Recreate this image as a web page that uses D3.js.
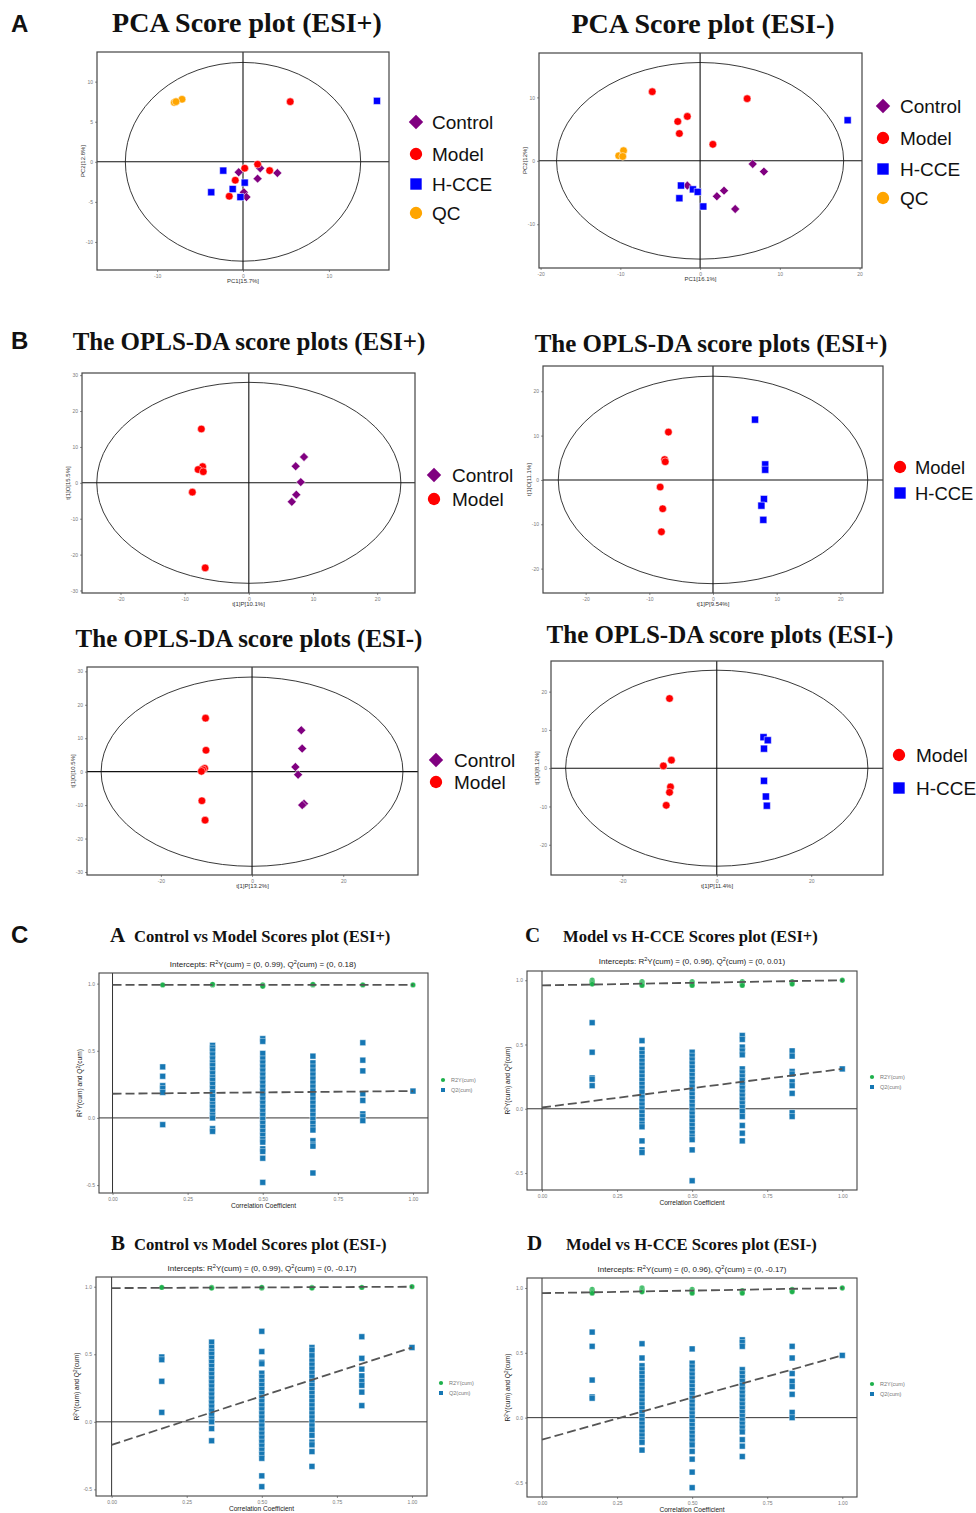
<!DOCTYPE html>
<html>
<head>
<meta charset="utf-8">
<script src="https://cdn.jsdelivr.net/npm/d3@7"></script>
<style>
body { margin: 0; background: #fff; }
svg { display: block; }
</style>
</head>
<body>
<svg id="fig" width="976" height="1513"></svg>
<script>
// ---------- data: PCA scores ----------
var pcaPosControl = [[-0.5,-1.3],[2.0,-0.8],[4.0,-1.4],[1.7,-2.1],[0.1,-3.8],[0.4,-4.4]];
var pcaPosModel   = [[5.5,7.5],[1.7,-0.3],[0.2,-0.8],[3.1,-1.1],[-0.9,-2.3],[-1.6,-4.3]];
var pcaPosHCCE    = [[15.6,7.6],[-2.3,-1.1],[0.2,-2.6],[-1.2,-3.4],[-3.7,-3.8],[-0.3,-4.4]];
var pcaPosQC      = [[-8.0,7.4],[-7.1,7.8],[-7.8,7.5]];

var pcaNegControl = [[6.6,-0.5],[8.0,-1.7],[-1.6,-3.9],[3.0,-4.7],[2.1,-5.6],[4.4,-7.6]];
var pcaNegModel   = [[-6.0,10.9],[5.9,9.8],[-1.6,7.0],[-2.8,6.2],[-2.6,4.3],[1.6,2.6]];
var pcaNegHCCE    = [[18.5,6.4],[-2.4,-3.9],[-0.9,-4.5],[-0.3,-4.9],[-2.6,-5.9],[0.4,-7.2]];
var pcaNegQC      = [[-10.2,0.8],[-9.6,1.6],[-9.7,0.7]];

// ---------- data: OPLS-DA scores ----------
var oplsPosCMControl = [[8.6,7.2],[7.3,4.6],[8.1,0.2],[7.4,-3.3],[6.7,-5.3]];
var oplsPosCMModel   = [[-7.4,15.0],[-7.2,4.5],[-7.9,3.7],[-7.1,3.1],[-8.8,-2.6],[-6.8,-23.7]];
var oplsPosMHModel   = [[-7.0,10.8],[-7.6,4.6],[-7.5,4.1],[-8.3,-1.6],[-7.9,-6.5],[-8.1,-11.7]];
var oplsPosMHHCCE    = [[6.6,13.6],[8.2,3.5],[8.2,2.3],[8.0,-4.3],[7.6,-5.8],[7.9,-9.0]];
var oplsNegCMControl = [[10.8,12.4],[11.0,6.9],[9.5,1.4],[10.1,-0.9],[11.4,-9.6],[11.0,-10.0]];
var oplsNegCMModel   = [[-10.2,16.0],[-10.1,6.4],[-10.4,1.0],[-10.8,0.6],[-11.1,0.1],[-11.0,-8.7],[-10.3,-14.5]];
var oplsNegMHModel   = [[-10.0,18.2],[-9.6,2.1],[-11.3,0.6],[-9.8,-4.9],[-10.0,-6.3],[-10.7,-9.7]];
var oplsNegMHHCCE    = [[9.9,8.1],[10.8,7.3],[10.0,5.1],[10.0,-3.3],[10.4,-7.4],[10.6,-9.8]];

// ---------- data: permutation tests ----------
var permSteps = [0.167, 0.333, 0.5, 0.667, 0.833, 1.0];

var permAR2 = [[0.99],[0.99,0.995],[0.99,0.98],[0.99,0.995],[0.99],[0.99]];
var permAQ2 = [
  [0.38,0.31,0.24,0.22,0.19,-0.05],
  [0.54,0.52,0.50,0.47,0.44,0.41,0.39,0.36,0.33,0.30,0.28,0.25,0.22,0.19,0.16,0.13,0.10,0.08,0.05,0.02,0.00,-0.08,-0.10],
  [0.59,0.57,0.48,0.44,0.41,0.38,0.35,0.32,0.29,0.26,0.23,0.20,0.17,0.14,0.11,0.08,0.05,0.02,-0.01,-0.04,-0.07,-0.10,-0.13,-0.16,-0.18,-0.23,-0.25,-0.30,-0.48],
  [0.46,0.41,0.38,0.35,0.32,0.29,0.26,0.23,0.20,0.17,0.14,0.11,0.08,0.05,0.02,-0.01,-0.04,-0.07,-0.09,-0.17,-0.20,-0.21,-0.41],
  [0.56,0.43,0.35,0.18,0.13,0.03,0.01,-0.02],
  [0.20]
];
var permAIntercepts = [0.99, 0.18];

var permBR2 = [[0.995],[0.995,0.99],[0.99,0.995],[0.995,0.99],[0.995],[1.0]];
var permBQ2 = [
  [0.48,0.46,0.30,0.07],
  [0.59,0.55,0.52,0.50,0.47,0.44,0.41,0.38,0.35,0.32,0.29,0.26,0.23,0.20,0.17,0.14,0.11,0.08,0.05,0.02,0.00,-0.05,-0.14],
  [0.67,0.52,0.44,0.43,0.36,0.33,0.30,0.27,0.24,0.21,0.18,0.15,0.12,0.09,0.06,0.03,0.00,-0.03,-0.06,-0.09,-0.12,-0.15,-0.18,-0.21,-0.24,-0.27,-0.40,-0.48],
  [0.55,0.53,0.49,0.45,0.42,0.39,0.36,0.33,0.30,0.27,0.24,0.21,0.18,0.15,0.12,0.09,0.06,0.03,0.00,-0.03,-0.06,-0.10,-0.15,-0.17,-0.22,-0.33],
  [0.63,0.47,0.39,0.34,0.30,0.27,0.22,0.12],
  [0.55]
];
var permBIntercepts = [0.99, -0.17];

var permCR2 = [[1.0,0.99,0.98,0.97],[0.99,0.98,0.97,0.96],[0.99,0.98,0.97,0.96],[0.99,0.98,0.97,0.96],[0.99,0.98,0.97],[1.0]];
var permCQ2 = [
  [0.67,0.44,0.24,0.23,0.18],
  [0.53,0.46,0.43,0.40,0.37,0.34,0.31,0.28,0.25,0.22,0.19,0.16,0.13,0.09,0.06,0.03,0.00,-0.03,-0.06,-0.09,-0.12,-0.14,-0.25,-0.32,-0.34],
  [0.44,0.41,0.38,0.35,0.32,0.29,0.26,0.23,0.20,0.17,0.14,0.11,0.08,0.05,0.02,-0.01,-0.04,-0.07,-0.10,-0.13,-0.16,-0.19,-0.22,-0.24,-0.32,-0.56],
  [0.57,0.54,0.48,0.45,0.42,0.31,0.28,0.25,0.22,0.19,0.16,0.13,0.10,0.07,0.04,0.01,-0.02,-0.06,-0.13,-0.19,-0.25],
  [0.45,0.41,0.29,0.27,0.21,0.18,0.12,-0.03,-0.06],
  [0.31]
];
var permCIntercepts = [0.96, 0.01];

var permDR2 = [[0.99,0.98,0.97,0.96],[1.0,0.99,0.98,0.97],[0.99,0.98,0.97,0.96],[0.98,0.97,0.96],[0.99,0.98,0.97],[1.0]];
var permDQ2 = [
  [0.66,0.55,0.29,0.16,0.15],
  [0.57,0.46,0.40,0.37,0.34,0.31,0.28,0.25,0.22,0.19,0.16,0.13,0.10,0.07,0.04,0.01,-0.02,-0.05,-0.08,-0.11,-0.14,-0.17,-0.19,-0.25],
  [0.53,0.42,0.39,0.36,0.33,0.30,0.27,0.24,0.21,0.18,0.15,0.12,0.09,0.06,0.03,0.00,-0.03,-0.06,-0.09,-0.12,-0.15,-0.18,-0.21,-0.26,-0.32,-0.42,-0.54],
  [0.60,0.58,0.55,0.37,0.34,0.31,0.28,0.25,0.22,0.19,0.16,0.13,0.10,0.07,0.04,0.01,-0.02,-0.05,-0.08,-0.11,-0.17,-0.22,-0.30],
  [0.55,0.46,0.34,0.28,0.24,0.18,0.04,0.00],
  [0.48]
];
var permDIntercepts = [0.96, -0.17];

var permXTicks = [0, 0.25, 0.5, 0.75, 1];
var permYTicks = [-0.5, 0, 0.5, 1];

// ---------- styles ----------
var serif = "'Liberation Serif','Times New Roman',serif";
var sans = "'Liberation Sans',Arial,sans-serif";

// square diamond (rotated square), like ggplot shape 18
var symbolRhomb = {
    draw: function(ctx, size) {
        var r = Math.sqrt(size / 2);
        ctx.moveTo(0, -r);
        ctx.lineTo(r, 0);
        ctx.lineTo(0, r);
        ctx.lineTo(-r, 0);
        ctx.closePath();
    }
};

var groupStyle = {
    'Control': { shape: symbolRhomb,     color: '#800080', size: 40 },
    'Model':   { shape: d3.symbolCircle, color: '#ff0000', size: 46 },
    'H-CCE':   { shape: d3.symbolSquare, color: '#0000ff', size: 50 },
    'QC':      { shape: d3.symbolCircle, color: '#ffa500', size: 46 }
};

var svg = d3.select('#fig');

var fmtInt = function(d) { return String(d); };

function styleAxis(sel, fs) {
    sel.select('.domain').remove();
    sel.selectAll('.tick line').attr('stroke', '#444').attr('stroke-width', 0.6);
    sel.selectAll('.tick text')
        .attr('fill', '#7a7a7a')
        .style('font-size', fs + 'px')
        .style('font-family', sans);
}

// text with superscript pieces: parts = [[text, isSup], ...]
function supText(t, parts, fs) {
    var up = false;
    parts.forEach(function(p) {
        var s = t.append('tspan').text(p[0]);
        if (p[1]) {
            s.style('font-size', (fs * 0.7) + 'px');
            if (!up) { s.attr('dy', -fs * 0.38); up = true; }
        } else if (up) {
            s.attr('dy', fs * 0.38);
            up = false;
        }
    });
}

function panelLetter(letter, x, y) {
    svg.append('text').attr('x', x).attr('y', y)
        .text(letter)
        .style('font-family', sans).style('font-weight', 'bold')
        .style('font-size', '24px').attr('fill', '#111');
}

// ---------- score plot (PCA / OPLS-DA) ----------
function scorePlot(o) {
    var f = o.frame;
    var x = d3.scaleLinear().domain(o.xDomain).range([f[0], f[0] + f[2]]);
    var y = d3.scaleLinear().domain(o.yDomain).range([f[1] + f[3], f[1]]);
    var g = svg.append('g');

    g.append('g').attr('transform', 'translate(0,' + (f[1] + f[3]) + ')')
        .call(d3.axisBottom(x).tickValues(o.xTicks).tickFormat(fmtInt).tickSize(2).tickPadding(2))
        .call(styleAxis, 5);
    g.append('g').attr('transform', 'translate(' + f[0] + ',0)')
        .call(d3.axisLeft(y).tickValues(o.yTicks).tickFormat(fmtInt).tickSize(2).tickPadding(2))
        .call(styleAxis, 5);

    g.append('ellipse')
        .attr('cx', x(0)).attr('cy', y(0))
        .attr('rx', x(o.ellipse[0]) - x(0)).attr('ry', y(0) - y(o.ellipse[1]))
        .attr('fill', 'none').attr('stroke', '#222').attr('stroke-width', 0.9);
    g.append('line')
        .attr('x1', x(0)).attr('x2', x(0)).attr('y1', f[1]).attr('y2', f[1] + f[3])
        .attr('stroke', '#111').attr('stroke-width', 1.1);
    g.append('line')
        .attr('x1', f[0]).attr('x2', f[0] + f[2]).attr('y1', y(0)).attr('y2', y(0))
        .attr('stroke', '#111').attr('stroke-width', 1.1);

    o.groups.forEach(function(name, i) {
        var st = groupStyle[name];
        g.selectAll(null).data(o.points[i]).enter().append('path')
            .attr('transform', function(d) { return 'translate(' + x(d[0]) + ',' + y(d[1]) + ')'; })
            .attr('d', d3.symbol().type(st.shape).size(st.size))
            .attr('fill', st.color)
            .attr('stroke', '#fff').attr('stroke-width', 0.5);
    });

    g.append('rect')
        .attr('x', f[0]).attr('y', f[1]).attr('width', f[2]).attr('height', f[3])
        .attr('fill', 'none').attr('stroke', '#444').attr('stroke-width', 1.2);

    // axis titles
    g.append('text')
        .attr('x', f[0] + f[2] / 2).attr('y', f[1] + f[3] + 13)
        .attr('text-anchor', 'middle').text(o.xLabel)
        .style('font-family', sans).style('font-size', '6px').attr('fill', '#333');
    g.append('text')
        .attr('transform', 'translate(' + (f[0] - 12) + ',' + (f[1] + f[3] / 2) + ') rotate(-90)')
        .attr('text-anchor', 'middle').text(o.yLabel)
        .style('font-family', sans).style('font-size', '6px').attr('fill', '#333');

    // title
    svg.append('text')
        .attr('x', o.title[1]).attr('y', o.title[2])
        .attr('text-anchor', 'middle').text(o.title[0])
        .style('font-family', serif).style('font-weight', 'bold')
        .style('font-size', o.title[3] + 'px').attr('fill', '#111');

    // legend
    var lg = svg.append('g');
    o.groups.forEach(function(name, i) {
        var st = groupStyle[name];
        var ly = o.legend.rows[i];
        lg.append('path')
            .attr('transform', 'translate(' + o.legend.marker + ',' + ly + ')')
            .attr('d', d3.symbol().type(st.shape).size(st.size * 2.6))
            .attr('fill', st.color);
        lg.append('text')
            .attr('x', o.legend.label).attr('y', ly).attr('dy', '0.36em')
            .text(name)
            .style('font-family', sans).style('font-size', (o.legend.fs || 19) + 'px').attr('fill', '#111');
    });
}

// ---------- permutation plot ----------
function permPlot(o) {
    var f = o.frame;
    var x = d3.scaleLinear().domain(o.xDomain).range([f[0], f[0] + f[2]]);
    var y = d3.scaleLinear().domain(o.yDomain).range([f[1] + f[3], f[1]]);
    var g = svg.append('g');

    g.append('g').attr('transform', 'translate(0,' + (f[1] + f[3]) + ')')
        .call(d3.axisBottom(x).tickValues(permXTicks)
            .tickFormat(function(d) { return d.toFixed(2); }).tickSize(2).tickPadding(2))
        .call(styleAxis, 5);
    g.append('g').attr('transform', 'translate(' + f[0] + ',0)')
        .call(d3.axisLeft(y).tickValues(permYTicks)
            .tickFormat(function(d) { return d.toFixed(1); }).tickSize(2).tickPadding(2))
        .call(styleAxis, 5);

    g.append('line')
        .attr('x1', x(0)).attr('x2', x(0)).attr('y1', f[1]).attr('y2', f[1] + f[3])
        .attr('stroke', '#333').attr('stroke-width', 1);
    g.append('line')
        .attr('x1', f[0]).attr('x2', f[0] + f[2]).attr('y1', y(0)).attr('y2', y(0))
        .attr('stroke', '#333').attr('stroke-width', 1);

    var q2pts = [], r2pts = [];
    permSteps.forEach(function(s, i) {
        o.q2[i].forEach(function(v) { q2pts.push([s, v]); });
        o.r2[i].forEach(function(v) { r2pts.push([s, v]); });
    });

    g.selectAll(null).data(q2pts).enter().append('path')
        .attr('transform', function(d) { return 'translate(' + x(d[0]) + ',' + y(d[1]) + ')'; })
        .attr('d', d3.symbol().type(d3.symbolSquare).size(34))
        .attr('fill', '#1677b3').attr('stroke', '#fff').attr('stroke-width', 0.4);
    g.selectAll(null).data(r2pts).enter().append('path')
        .attr('transform', function(d) { return 'translate(' + x(d[0]) + ',' + y(d[1]) + ')'; })
        .attr('d', d3.symbol().type(d3.symbolCircle).size(22))
        .attr('fill', '#1db04b').attr('stroke', '#fff').attr('stroke-width', 0.3);

    // intercept lines: from (0, intercept) to (1, original model value)
    var lastR2 = o.r2[o.r2.length - 1][0];
    var lastQ2 = o.q2[o.q2.length - 1][0];
    var lines = [[[0, o.intercepts[0]], [1, lastR2]], [[0, o.intercepts[1]], [1, lastQ2]]];
    g.selectAll(null).data(lines).enter().append('line')
        .attr('x1', function(d) { return x(d[0][0]); })
        .attr('y1', function(d) { return y(d[0][1]); })
        .attr('x2', function(d) { return x(d[1][0]); })
        .attr('y2', function(d) { return y(d[1][1]); })
        .attr('stroke', '#555').attr('stroke-width', 1.8).attr('stroke-dasharray', '9,4');

    g.append('rect')
        .attr('x', f[0]).attr('y', f[1]).attr('width', f[2]).attr('height', f[3])
        .attr('fill', 'none').attr('stroke', '#444').attr('stroke-width', 1.1);

    // subtitle with intercepts
    var sub = g.append('text')
        .attr('x', o.sub[0]).attr('y', o.sub[1]).attr('text-anchor', 'middle')
        .style('font-family', sans).style('font-size', '8px').attr('fill', '#222');
    supText(sub, [
        ['Intercepts: R', 0], ['2', 1],
        ['Y(cum) = (0, ' + o.intercepts[0].toFixed(2) + '), Q', 0], ['2', 1],
        ['(cum) = (0, ' + o.intercepts[1].toFixed(2) + ')', 0]
    ], 8);

    // axis titles
    g.append('text')
        .attr('x', f[0] + f[2] / 2).attr('y', f[1] + f[3] + 15)
        .attr('text-anchor', 'middle').text('Correlation Coefficient')
        .style('font-family', sans).style('font-size', '6.6px').attr('fill', '#222');
    var yt = g.append('text')
        .attr('transform', 'translate(' + (f[0] - 17) + ',' + (f[1] + f[3] / 2) + ') rotate(-90)')
        .attr('text-anchor', 'middle')
        .style('font-family', sans).style('font-size', '6.6px').attr('fill', '#222');
    supText(yt, [['R', 0], ['2', 1], ['Y(cum) and Q', 0], ['2', 1], ['(cum)', 0]], 6.6);

    // title
    svg.append('text').attr('x', o.title[1]).attr('y', o.title[2])
        .text(o.title[0])
        .style('font-family', serif).style('font-weight', 'bold').style('font-size', '21px').attr('fill', '#111');
    svg.append('text').attr('x', o.title[3]).attr('y', o.title[2])
        .text(o.title[4])
        .style('font-family', serif).style('font-weight', 'bold').style('font-size', '16.6px').attr('fill', '#111');

    // small legend
    var lg = svg.append('g');
    lg.append('path').attr('transform', 'translate(' + o.legend[0] + ',' + o.legend[1] + ')')
        .attr('d', d3.symbol().type(d3.symbolCircle).size(14)).attr('fill', '#1db04b');
    lg.append('path').attr('transform', 'translate(' + o.legend[0] + ',' + (o.legend[1] + 10) + ')')
        .attr('d', d3.symbol().type(d3.symbolSquare).size(16)).attr('fill', '#1677b3');
    lg.selectAll(null).data(['R2Y(cum)', 'Q2(cum)']).enter().append('text')
        .attr('x', o.legend[0] + 8)
        .attr('y', function(d, i) { return o.legend[1] + i * 10; })
        .attr('dy', '0.35em').text(function(d) { return d; })
        .style('font-family', sans).style('font-size', '5.5px').attr('fill', '#777');
}

// ---------- panel A: PCA ----------
panelLetter('A', 11, 32);
scorePlot({
    frame: [97, 52, 292, 218], xDomain: [-17, 17], yDomain: [-13.5, 13.7],
    xTicks: [-10, 0, 10], yTicks: [-10, -5, 0, 5, 10], ellipse: [13.7, 12.4],
    xLabel: 'PC1[15.7%]', yLabel: 'PC2[12.8%]',
    title: ['PCA Score plot (ESI+)', 247, 32, 28],
    groups: ['Control', 'Model', 'H-CCE', 'QC'],
    points: [pcaPosControl, pcaPosModel, pcaPosHCCE, pcaPosQC],
    legend: { marker: 416, label: 432, rows: [122, 154, 184, 213] }
});
scorePlot({
    frame: [539, 53, 323, 215], xDomain: [-20.2, 20.3], yDomain: [-16.9, 17],
    xTicks: [-20, -10, 0, 10, 20], yTicks: [-10, 0, 10], ellipse: [18, 15.5],
    xLabel: 'PC1[16.1%]', yLabel: 'PC2[12%]',
    title: ['PCA Score plot (ESI-)', 703, 33, 28],
    groups: ['Control', 'Model', 'H-CCE', 'QC'],
    points: [pcaNegControl, pcaNegModel, pcaNegHCCE, pcaNegQC],
    legend: { marker: 883, label: 900, rows: [106, 138, 169, 198] }
});

// ---------- panel B: OPLS-DA ----------
panelLetter('B', 11, 349);
scorePlot({
    frame: [82, 373, 333, 220], xDomain: [-26, 25.9], yDomain: [-30.7, 30.6],
    xTicks: [-20, -10, 0, 10, 20], yTicks: [-30, -20, -10, 0, 10, 20, 30], ellipse: [23.7, 28],
    xLabel: 't[1]P[10.1%]', yLabel: 't[1]O[15.5%]',
    title: ['The OPLS-DA score plots (ESI+)', 249, 350, 25],
    groups: ['Control', 'Model'],
    points: [oplsPosCMControl, oplsPosCMModel],
    legend: { marker: 434, label: 452, rows: [475, 499] }
});
scorePlot({
    frame: [543, 366, 340, 227], xDomain: [-26.7, 26.7], yDomain: [-25.5, 25.7],
    xTicks: [-20, -10, 0, 10, 20], yTicks: [-20, -10, 0, 10, 20], ellipse: [24.3, 23.4],
    xLabel: 't[1]P[9.54%]', yLabel: 't[1]O[11.1%]',
    title: ['The OPLS-DA score plots (ESI+)', 711, 352, 25],
    groups: ['Model', 'H-CCE'],
    points: [oplsPosMHModel, oplsPosMHHCCE],
    legend: { marker: 900, label: 915, rows: [467, 493], fs: 18.4 }
});
scorePlot({
    frame: [87, 667, 331, 208], xDomain: [-36.2, 36.4], yDomain: [-30.9, 31.3],
    xTicks: [-20, 0, 20], yTicks: [-30, -20, -10, 0, 10, 20, 30], ellipse: [33.1, 28.3],
    xLabel: 't[1]P[13.2%]', yLabel: 't[1]O[10.5%]',
    title: ['The OPLS-DA score plots (ESI-)', 249, 647, 25],
    groups: ['Control', 'Model'],
    points: [oplsNegCMControl, oplsNegCMModel],
    legend: { marker: 436, label: 454, rows: [760, 782] }
});
scorePlot({
    frame: [551, 661, 332, 214], xDomain: [-35.1, 35.2], yDomain: [-27.9, 28],
    xTicks: [-20, 0, 20], yTicks: [-20, -10, 0, 10, 20], ellipse: [32, 25.6],
    xLabel: 't[1]P[11.4%]', yLabel: 't[1]O[8.12%]',
    title: ['The OPLS-DA score plots (ESI-)', 720, 643, 25],
    groups: ['Model', 'H-CCE'],
    points: [oplsNegMHModel, oplsNegMHHCCE],
    legend: { marker: 899, label: 916, rows: [755, 788] }
});

// ---------- panel C: permutation tests ----------
panelLetter('C', 11, 943);
permPlot({
    frame: [99, 973, 329, 220], xDomain: [-0.045, 1.05], yDomain: [-0.559, 1.079],
    r2: permAR2, q2: permAQ2, intercepts: permAIntercepts,
    title: ['A', 110, 942, 134, 'Control vs Model Scores plot (ESI+)'],
    sub: [263, 967], legend: [443, 1080]
});
permPlot({
    frame: [527, 971, 330, 219], xDomain: [-0.05, 1.049], yDomain: [-0.632, 1.072],
    r2: permCR2, q2: permCQ2, intercepts: permCIntercepts,
    title: ['C', 525, 942, 563, 'Model vs H-CCE Scores plot (ESI+)'],
    sub: [692, 964], legend: [872, 1077]
});
permPlot({
    frame: [96, 1277, 331, 219], xDomain: [-0.052, 1.05], yDomain: [-0.549, 1.072],
    r2: permBR2, q2: permBQ2, intercepts: permBIntercepts,
    title: ['B', 111, 1250, 134, 'Control vs Model Scores plot (ESI-)'],
    sub: [262, 1271], legend: [441, 1383]
});
permPlot({
    frame: [527, 1278, 330, 219], xDomain: [-0.05, 1.049], yDomain: [-0.612, 1.077],
    r2: permDR2, q2: permDQ2, intercepts: permDIntercepts,
    title: ['D', 527, 1250, 566, 'Model vs H-CCE Scores plot (ESI-)'],
    sub: [692, 1272], legend: [872, 1384]
});
</script>
</body>
</html>
